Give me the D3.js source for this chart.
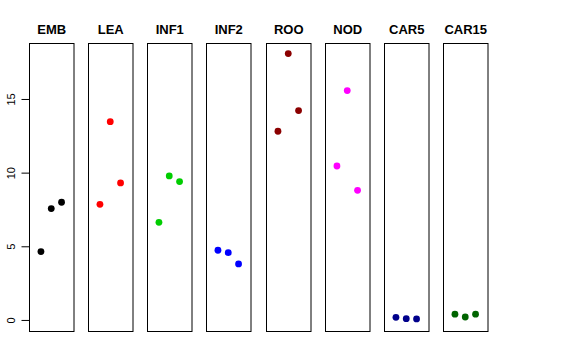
<!DOCTYPE html>
<html><head><meta charset="utf-8">
<script src="https://cdn.jsdelivr.net/npm/d3@7"></script>
<style>body{margin:0;background:#fff}svg{display:block}</style>
</head><body>
<svg id="c" width="576" height="360"></svg>
<script>
const categories = ["EMB","LEA","INF1","INF2","ROO","NOD","CAR5","CAR15"];
const colors = ["#000000","#FF0000","#00CD00","#0000FF","#8B0000","#FF00FF","#00008B","#006400"];
const rep1 = [4.64, 7.85, 6.63, 4.73, 12.81, 10.45, 0.18, 0.39];
const rep2 = [7.56, 13.46, 9.78, 4.57, 18.08, 15.57, 0.09, 0.20];
const rep3 = [7.99, 9.30, 9.39, 3.80, 14.21, 8.80, 0.07, 0.39];
const yTicks = [0, 5, 10, 15];

(function() {
const svg = d3.select("#c");
const pTop = 43, pBottom = 331;
const y = d3.scaleLinear().domain([-0.75, 18.8]).range([pBottom, pTop]);
const panelX = d3.scaleLinear().domain([0, categories.length - 1]).range([29, 443]);
const pw = 44.5;
const x = d3.scaleLinear().domain([-0.16, 4.16]).range([0, pw]);

categories.forEach((cat, i) => {
  const g = svg.append("g").attr("transform", `translate(${Math.round(panelX(i))},0)`);
  g.append("rect").attr("x", 0.5).attr("y", pTop + 0.5).attr("width", pw).attr("height", pBottom - pTop)
    .attr("fill", "none").attr("stroke", "#000").attr("stroke-width", 1);
  g.append("text").attr("x", pw/2 + 0.5).attr("y", 34).attr("text-anchor", "middle")
    .attr("font-family", "Liberation Sans, Arial, sans-serif").attr("font-weight", "bold").attr("font-size", 13)
    .text(cat);
  const vals = [rep1[i], rep2[i], rep3[i]];
  g.selectAll("circle").data(vals).join("circle")
    .attr("cx", (d, j) => x(j + 1)).attr("cy", d => y(d)).attr("r", 3.4)
    .attr("fill", colors[i]);
});

const ax = svg.append("g").attr("transform", `translate(29.5,0)`)
  .call(d3.axisLeft(y).tickValues(yTicks).tickSize(8).tickSizeOuter(0));
ax.select(".domain").remove();
ax.selectAll(".tick text")
  .attr("font-family", "Liberation Sans, Arial, sans-serif").attr("font-size", 11)
  .attr("fill", "#000")
  .attr("transform", "rotate(-90)").attr("text-anchor", "middle")
  .attr("dy", 0).attr("x", 0).attr("y", -15);
})();
</script>
</body></html>
